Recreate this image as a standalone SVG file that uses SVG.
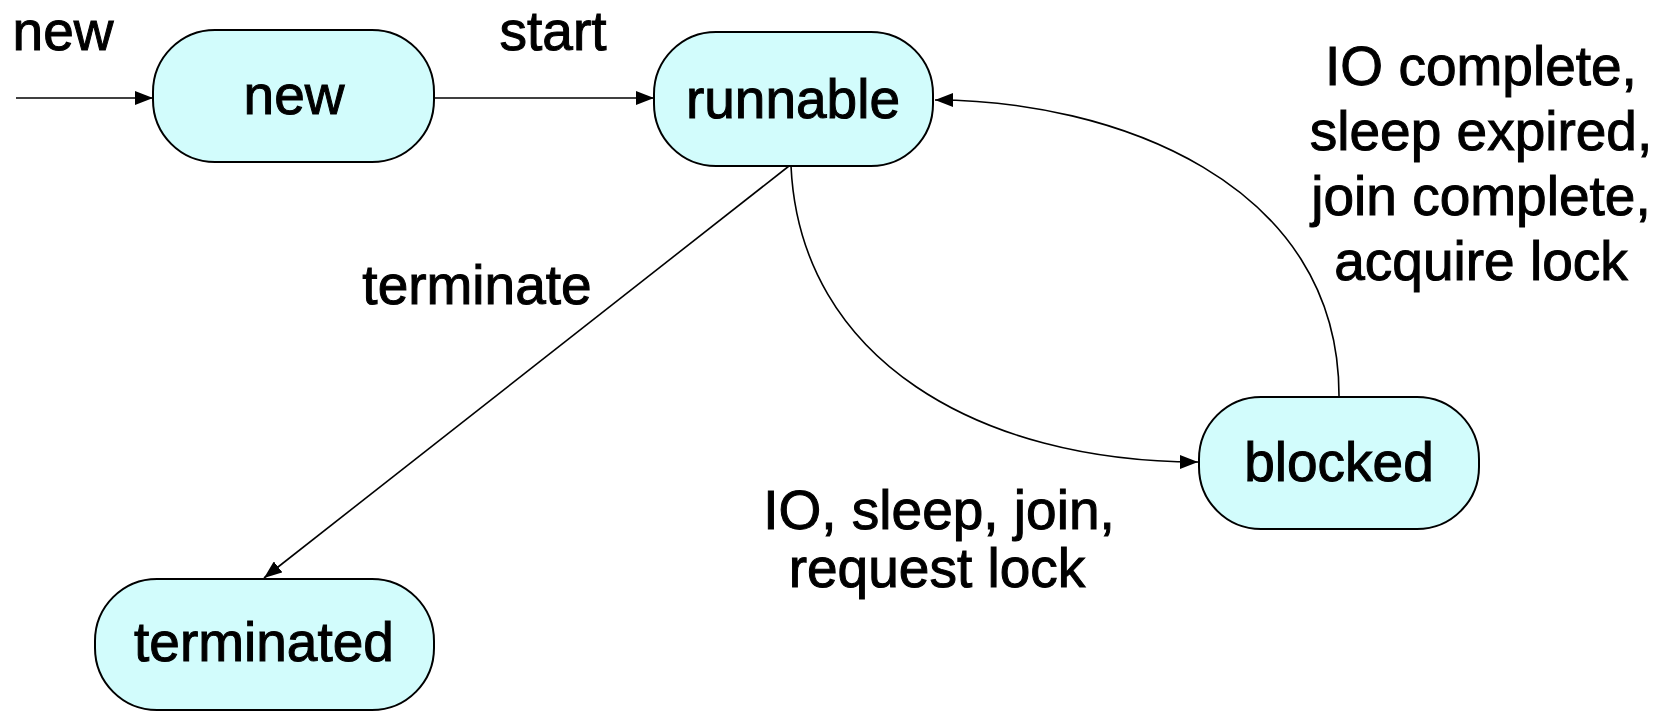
<svg xmlns="http://www.w3.org/2000/svg" width="1659" height="712" viewBox="0 0 1659 712">
<style>
.node rect{fill:#d2fcfc;stroke:#000;stroke-width:2}
text{font-family:"Liberation Sans",Arial,sans-serif;font-size:55px;fill:#000;stroke:#000;stroke-width:1;text-anchor:middle}
.edge{fill:none;stroke:#000;stroke-width:1.6}
</style>
<defs>
<marker id="arr" markerWidth="20" markerHeight="14" refX="18" refY="7" orient="auto" markerUnits="userSpaceOnUse">
<path d="M0,0 L18,7 L0,14 Z" fill="#000"/>
</marker>
</defs>
<rect width="1659" height="712" fill="#fff"/>
<g id="connectors">
<path class="edge" d="M16,98 L153,98" marker-end="url(#arr)"/>
<path class="edge" d="M434,98 L654,98" marker-end="url(#arr)"/>
<path class="edge" d="M789,166 L264,578" marker-end="url(#arr)"/>
<path class="edge" d="M791,166 C800,360 980,462 1198,462" marker-end="url(#arr)"/>
<path class="edge" d="M1339,397 C1340,180 1110,100 935,100" marker-end="url(#arr)"/>
</g>
<g id="labels">
<text x="63" y="50">new</text>
<text x="553" y="50">start</text>
<text x="477" y="304">terminate</text>
<text x="939" y="529">IO, sleep, join,</text>
<text x="937" y="587">request lock</text>
<text x="1481" y="85">IO complete,</text>
<text x="1481" y="150">sleep expired,</text>
<text x="1481" y="215">join complete,</text>
<text x="1481" y="280">acquire lock</text>
</g>
<g id="node-new" class="node">
<rect x="153" y="30" width="281" height="132" rx="62" ry="62"/>
<text x="294" y="114">new</text>
</g>
<g id="node-runnable" class="node">
<rect x="654" y="32" width="279" height="134" rx="62" ry="62"/>
<text x="793" y="118">runnable</text>
</g>
<g id="node-blocked" class="node">
<rect x="1199" y="397" width="280" height="132" rx="62" ry="62"/>
<text x="1339" y="481">blocked</text>
</g>
<g id="node-terminated" class="node">
<rect x="95" y="579" width="339" height="131" rx="62" ry="62"/>
<text x="264" y="661">terminated</text>
</g>
</svg>
